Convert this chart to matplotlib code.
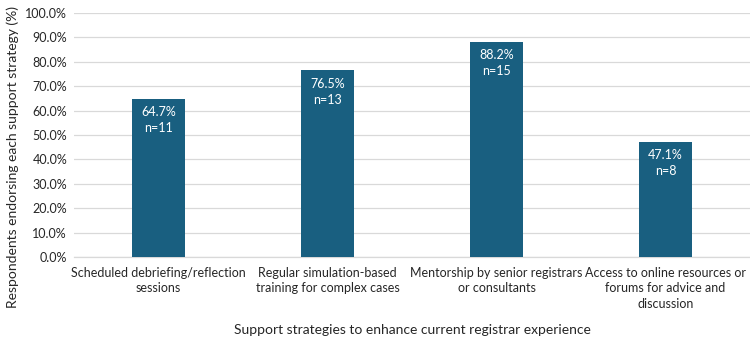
import matplotlib.pyplot as plt
import numpy as np

plt.rcParams['font.family'] = ['Lato', 'DejaVu Sans']

categories = [
    "Scheduled debriefing/reflection\nsessions",
    "Regular simulation-based\ntraining for complex cases",
    "Mentorship by senior registrars\nor consultants",
    "Access to online resources or\nforums for advice and\ndiscussion",
]
percent = [64.7, 76.5, 88.2, 47.1]
counts = [11, 13, 15, 8]
yticks = np.arange(0, 101, 10)

fig = plt.figure(figsize=(7.5, 3.38), dpi=100)
ax = fig.add_axes([0.0987, 0.2396, 0.9013, 0.7219])

x = np.arange(len(categories))
bars = ax.bar(x, percent, width=0.31, color='#195F80', zorder=3)

for b, p, n in zip(bars, percent, counts):
    ax.text(b.get_x() + b.get_width() / 2, p - 3, f"{p:.1f}%\nn={n}",
            ha='center', va='top', color='white', fontsize=9, linespacing=1.4, zorder=4)

ax.set_xlim(-0.5, len(categories) - 0.5)
ax.set_ylim(0, 100)
ax.set_yticks(yticks)
ax.set_yticklabels([f"{v:.1f}%" for v in yticks], fontsize=9, color='#262626')
ax.set_xticks(x)
ax.set_xticklabels(categories, fontsize=9, color='#262626', linespacing=1.35)
ax.tick_params(length=0, pad=5)
ax.tick_params(axis='x', pad=7)

ax.grid(axis='y', color='#d9d9d9', linewidth=0.9, zorder=0)
for s in ['top', 'right', 'left']:
    ax.spines[s].set_visible(False)
ax.spines['bottom'].set_color('#d9d9d9')
ax.spines['bottom'].set_linewidth(0.9)

# y label sits a bit lower than the axes centre, as in the original
fig.text(0.017, 0.535, "Respondents endorsing each support strategy (%)", rotation=90,
         ha='center', va='center', fontsize=10, color='#262626')
ax.set_xlabel("Support strategies to enhance current registrar experience", fontsize=10, color='#262626', labelpad=10)

fig.savefig("out.png", dpi=100)
